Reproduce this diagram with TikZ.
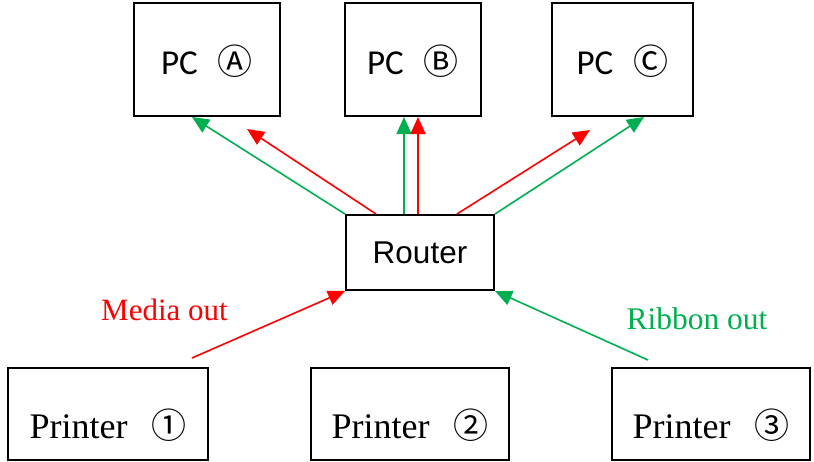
\documentclass[tikz,border=0pt]{standalone}
\usepackage{fontspec}
\setmainfont{Liberation Serif}
\newfontfamily\pcfont{Carlito}
\newfontfamily\routerfont{Liberation Sans}
\newfontfamily\symfont{Noto Sans CJK JP}
\usepackage{xcolor}
\usetikzlibrary{arrows.meta}
\definecolor{mediared}{HTML}{FF0000}
\definecolor{ribbongreen}{HTML}{00B050}
\newcommand{\circsym}[1]{{\symfont\fontsize{35}{35}\selectfont #1}}

\tikzset{
  box/.style={draw, line width=2pt, rectangle, inner sep=0pt},
  pcbox/.style={box, minimum height=113pt, text height=44pt, text depth=15pt,
    font=\pcfont\fontsize{35}{40}\selectfont},
  printerbox/.style={box, minimum height=92pt, text height=60pt, text depth=11pt,
    font=\fontsize{36}{40}\selectfont},
  routerbox/.style={box, minimum width=148pt, minimum height=75pt,
    text height=32pt, text depth=11pt, font=\routerfont\fontsize{31.5}{36}\selectfont},
  flow/.style={line width=1.6pt, -{Triangle[length=17pt,width=15pt]}},
  media/.style={flow, mediared},
  ribbon/.style={flow, ribbongreen}
}

\begin{document}
\begin{tikzpicture}[x=1pt,y=-1pt]
\useasboundingbox (0,0) rectangle (814,461);

% PCs
\node[pcbox, minimum width=146pt] (pcA) at (207,59.5) {PC\hspace{20pt}\circsym{Ⓐ}};
\node[pcbox, minimum width=136pt] (pcB) at (413,59.5) {PC\hspace{20pt}\circsym{Ⓑ}};
\node[pcbox, minimum width=141pt] (pcC) at (622.5,59.5) {PC\hspace{20pt}\circsym{Ⓒ}};

% Router
\node[routerbox] (router) at (420,252.5) {Router};

% Printers
\node[printerbox, minimum width=200pt] (prn1) at (108,413.5) {Printer\hspace{24pt}\circsym{①}};
\node[printerbox, minimum width=198pt] (prn2) at (410,413.5) {Printer\hspace{24pt}\circsym{②}};
\node[printerbox, minimum width=198pt] (prn3) at (711,413.5) {Printer\hspace{24pt}\circsym{③}};

% Router to PCs
\draw[ribbon] (router.north west) -- ([xshift=59pt]pcA.south west);
\draw[media] ([xshift=31pt]router.north west) -- ([xshift=114pt,yshift=-12pt]pcA.south west);
\draw[ribbon] ([xshift=59pt]router.north west) -- ([xshift=60pt]pcB.south west);
\draw[media] ([xshift=73pt]router.north west) -- ([xshift=74pt]pcB.south west);
\draw[media] ([xshift=112pt]router.north west) -- ([xshift=39pt,yshift=-13pt]pcC.south west);
\draw[ribbon] (router.north east) -- ([xshift=93pt]pcC.south west);

% Printers to router
\coordinate (mediaStart) at (192,358);
\coordinate (ribbonStart) at (648,360);
\draw[media] (mediaStart) -- (router.south west);
\draw[ribbon] (ribbonStart) -- (router.south east);

\node[anchor=base, text=mediared, font=\fontsize{31}{36}\selectfont] (mediaLbl) at (164.5,320) {Media out};
\node[anchor=base, text=ribbongreen, font=\fontsize{31.5}{36}\selectfont] (ribbonLbl) at (697,329) {Ribbon out};

\end{tikzpicture}
\end{document}
